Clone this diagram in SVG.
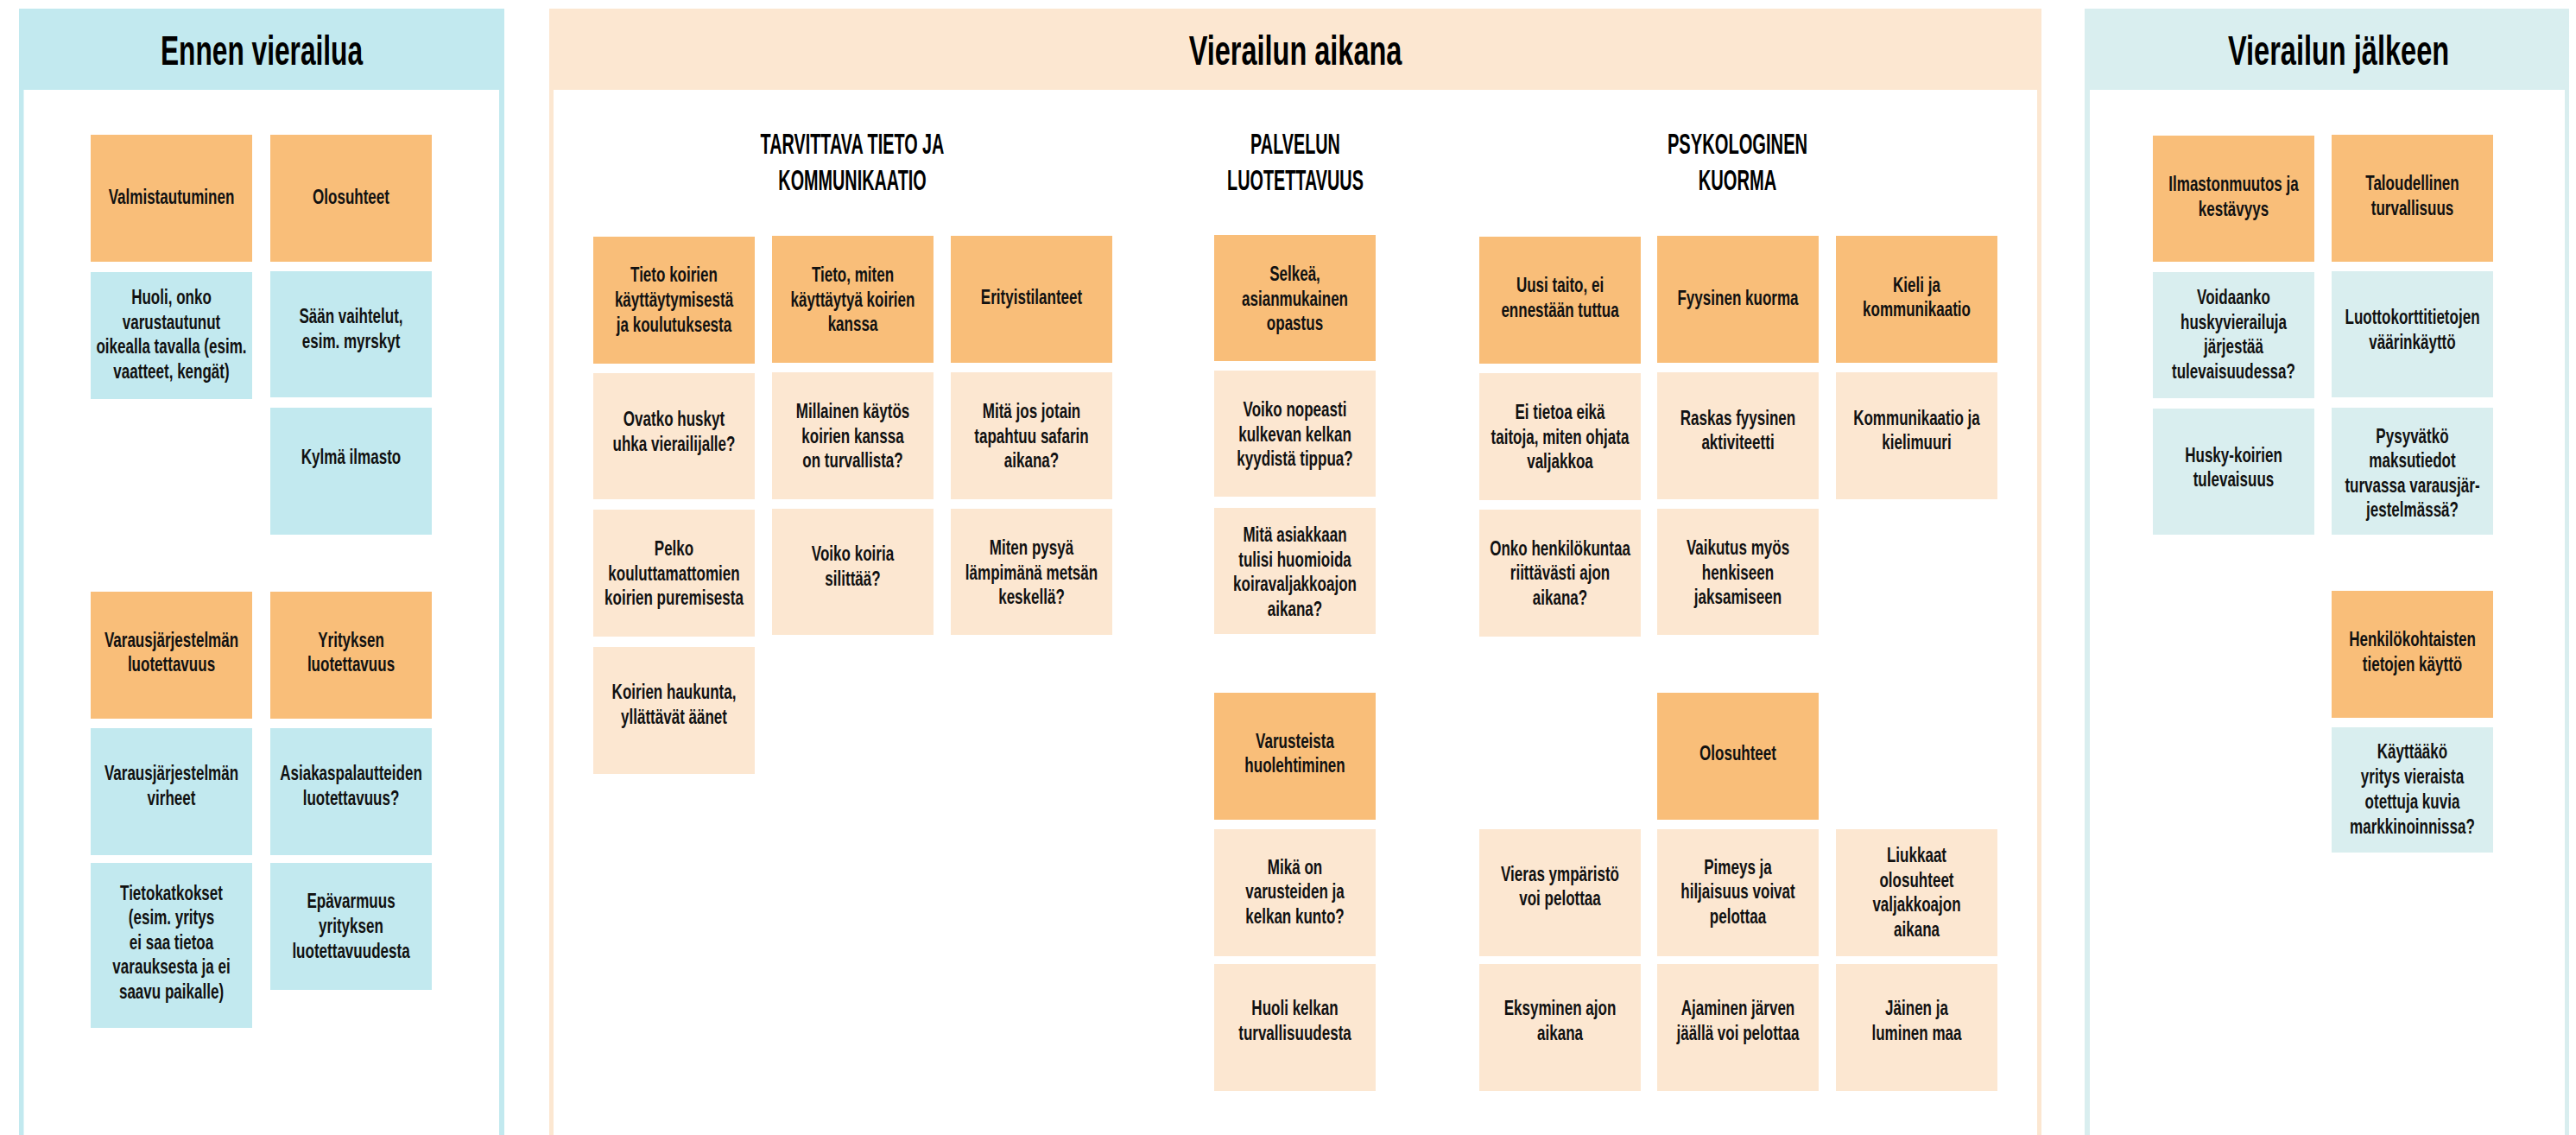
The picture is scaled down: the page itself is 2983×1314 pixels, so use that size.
<svg xmlns="http://www.w3.org/2000/svg" width="2983" height="1314" viewBox="0 0 2983 1314">
<style>
.o{fill:#f9be79}
.p{fill:#fce7d1}
.c{fill:#c2e9ef}
.d{fill:#d9eeef}
.t{font-family:"Liberation Sans",Arial,sans-serif;font-weight:bold;font-size:24px;text-anchor:middle;fill:#111}
.h{font-family:"Liberation Sans",Arial,sans-serif;font-weight:bold;font-size:48px;text-anchor:middle;fill:#000}
.s{font-family:"Liberation Sans",Arial,sans-serif;font-weight:bold;font-size:32.5px;text-anchor:middle;fill:#000}
</style>
<rect width="2983" height="1314" fill="#fff"/>
<g id="panel-ennen">
<rect class="c" x="22" y="10" width="562" height="1310"/>
<rect x="27.5" y="104" width="550.5" height="1220" fill="#fff"/>
<text class="h" transform="translate(303 0) scale(0.66 1)" x="0" y="75">Ennen vierailua</text>
</g>
<g id="panel-aikana">
<rect class="p" x="636" y="10" width="1728" height="1310"/>
<rect x="641" y="104" width="1718" height="1220" fill="#fff"/>
<text class="h" transform="translate(1500 0) scale(0.677 1)" x="0" y="75">Vierailun aikana</text>
<text class="s" transform="translate(987 0) scale(0.61 1)"><tspan x="0" y="178.5">TARVITTAVA TIETO JA</tspan><tspan x="0" y="220.5">KOMMUNIKAATIO</tspan></text>
<text class="s" transform="translate(1500 0) scale(0.61 1)"><tspan x="0" y="178.5">PALVELUN</tspan><tspan x="0" y="220.5">LUOTETTAVUUS</tspan></text>
<text class="s" transform="translate(2012 0) scale(0.62 1)"><tspan x="0" y="178.5">PSYKOLOGINEN</tspan><tspan x="0" y="220.5">KUORMA</tspan></text>
</g>
<g id="panel-jalkeen">
<rect class="d" x="2414" y="10" width="561" height="1310"/>
<rect x="2420" y="104" width="550" height="1220" fill="#fff"/>
<text class="h" transform="translate(2708 0) scale(0.678 1)" x="0" y="75">Vierailun jälkeen</text>
</g>
<g id="connectors"/>

<g id="n1"><rect class="o" x="105" y="156" width="187" height="147"/><text class="t" transform="translate(198.5 0) scale(0.71 1)"><tspan x="0" y="236.5">Valmistautuminen</tspan></text></g>
<g id="n2"><rect class="o" x="313" y="156" width="187" height="147"/><text class="t" transform="translate(406.5 0) scale(0.71 1)"><tspan x="0" y="236.5">Olosuhteet</tspan></text></g>
<g id="n3"><rect class="c" x="105" y="315" width="187" height="147"/><text class="t" transform="translate(198.5 0) scale(0.71 1)"><tspan x="0" y="352">Huoli, onko</tspan><tspan x="0" y="381">varustautunut</tspan><tspan x="0" y="409.5">oikealla tavalla (esim.</tspan><tspan x="0" y="438">vaatteet, kengät)</tspan></text></g>
<g id="n4"><rect class="c" x="313" y="314" width="187" height="146"/><text class="t" transform="translate(406.5 0) scale(0.71 1)"><tspan x="0" y="374.5">Sään vaihtelut,</tspan><tspan x="0" y="403">esim. myrskyt</tspan></text></g>
<g id="n5"><rect class="c" x="313" y="472" width="187" height="147"/><text class="t" transform="translate(406.5 0) scale(0.71 1)"><tspan x="0" y="537">Kylmä ilmasto</tspan></text></g>
<g id="n6"><rect class="o" x="105" y="685" width="187" height="147"/><text class="t" transform="translate(198.5 0) scale(0.71 1)"><tspan x="0" y="749">Varausjärjestelmän</tspan><tspan x="0" y="777.5">luotettavuus</tspan></text></g>
<g id="n7"><rect class="o" x="313" y="685" width="187" height="147"/><text class="t" transform="translate(406.5 0) scale(0.71 1)"><tspan x="0" y="749">Yrityksen</tspan><tspan x="0" y="777.5">luotettavuus</tspan></text></g>
<g id="n8"><rect class="c" x="105" y="843" width="187" height="147"/><text class="t" transform="translate(198.5 0) scale(0.71 1)"><tspan x="0" y="903.5">Varausjärjestelmän</tspan><tspan x="0" y="932">virheet</tspan></text></g>
<g id="n9"><rect class="c" x="313" y="843" width="187" height="147"/><text class="t" transform="translate(406.5 0) scale(0.71 1)"><tspan x="0" y="903.5">Asiakaspalautteiden</tspan><tspan x="0" y="932">luotettavuus?</tspan></text></g>
<g id="n10"><rect class="c" x="105" y="999" width="187" height="191"/><text class="t" transform="translate(198.5 0) scale(0.71 1)"><tspan x="0" y="1042">Tietokatkokset</tspan><tspan x="0" y="1070.5">(esim. yritys</tspan><tspan x="0" y="1099">ei saa tietoa</tspan><tspan x="0" y="1127.5">varauksesta ja ei</tspan><tspan x="0" y="1156">saavu paikalle)</tspan></text></g>
<g id="n11"><rect class="c" x="313" y="999" width="187" height="147"/><text class="t" transform="translate(406.5 0) scale(0.71 1)"><tspan x="0" y="1051.5">Epävarmuus</tspan><tspan x="0" y="1080">yrityksen</tspan><tspan x="0" y="1109">luotettavuudesta</tspan></text></g>

<g id="n12"><rect class="o" x="687" y="274" width="187" height="147"/><text class="t" transform="translate(780.5 0) scale(0.71 1)"><tspan x="0" y="326.5">Tieto koirien</tspan><tspan x="0" y="355.5">käyttäytymisestä</tspan><tspan x="0" y="384.5">ja koulutuksesta</tspan></text></g>
<g id="n13"><rect class="o" x="894" y="273" width="187" height="147"/><text class="t" transform="translate(987.5 0) scale(0.71 1)"><tspan x="0" y="326">Tieto, miten</tspan><tspan x="0" y="355">käyttäytyä koirien</tspan><tspan x="0" y="383.5">kanssa</tspan></text></g>
<g id="n14"><rect class="o" x="1101" y="273" width="187" height="147"/><text class="t" transform="translate(1194.5 0) scale(0.71 1)"><tspan x="0" y="352.5">Erityistilanteet</tspan></text></g>
<g id="n15"><rect class="p" x="687" y="432" width="187" height="146"/><text class="t" transform="translate(780.5 0) scale(0.71 1)"><tspan x="0" y="493">Ovatko huskyt</tspan><tspan x="0" y="522">uhka vierailijalle?</tspan></text></g>
<g id="n16"><rect class="p" x="894" y="431" width="187" height="147"/><text class="t" transform="translate(987.5 0) scale(0.71 1)"><tspan x="0" y="484.5">Millainen käytös</tspan><tspan x="0" y="513">koirien kanssa</tspan><tspan x="0" y="541.5">on turvallista?</tspan></text></g>
<g id="n17"><rect class="p" x="1101" y="431" width="187" height="147"/><text class="t" transform="translate(1194.5 0) scale(0.71 1)"><tspan x="0" y="484.5">Mitä jos jotain</tspan><tspan x="0" y="513">tapahtuu safarin</tspan><tspan x="0" y="541.5">aikana?</tspan></text></g>
<g id="n18"><rect class="p" x="687" y="590" width="187" height="147"/><text class="t" transform="translate(780.5 0) scale(0.71 1)"><tspan x="0" y="643">Pelko</tspan><tspan x="0" y="672">kouluttamattomien</tspan><tspan x="0" y="700.5">koirien puremisesta</tspan></text></g>
<g id="n19"><rect class="p" x="894" y="589" width="187" height="146"/><text class="t" transform="translate(987.5 0) scale(0.71 1)"><tspan x="0" y="649.5">Voiko koiria</tspan><tspan x="0" y="678.5">silittää?</tspan></text></g>
<g id="n20"><rect class="p" x="1101" y="589" width="187" height="146"/><text class="t" transform="translate(1194.5 0) scale(0.71 1)"><tspan x="0" y="642">Miten pysyä</tspan><tspan x="0" y="671">lämpimänä metsän</tspan><tspan x="0" y="699.5">keskellä?</tspan></text></g>
<g id="n21"><rect class="p" x="687" y="749" width="187" height="147"/><text class="t" transform="translate(780.5 0) scale(0.71 1)"><tspan x="0" y="809.5">Koirien haukunta,</tspan><tspan x="0" y="838">yllättävät äänet</tspan></text></g>

<g id="n22"><rect class="o" x="1406" y="272" width="187" height="146"/><text class="t" transform="translate(1499.5 0) scale(0.71 1)"><tspan x="0" y="325.5">Selkeä,</tspan><tspan x="0" y="354">asianmukainen</tspan><tspan x="0" y="382.5">opastus</tspan></text></g>
<g id="n23"><rect class="p" x="1406" y="429" width="187" height="146"/><text class="t" transform="translate(1499.5 0) scale(0.71 1)"><tspan x="0" y="482.5">Voiko nopeasti</tspan><tspan x="0" y="511">kulkevan kelkan</tspan><tspan x="0" y="539.5">kyydistä tippua?</tspan></text></g>
<g id="n24"><rect class="p" x="1406" y="588" width="187" height="146"/><text class="t" transform="translate(1499.5 0) scale(0.71 1)"><tspan x="0" y="627.5">Mitä asiakkaan</tspan><tspan x="0" y="656">tulisi huomioida</tspan><tspan x="0" y="684.5">koiravaljakkoajon</tspan><tspan x="0" y="713">aikana?</tspan></text></g>
<g id="n25"><rect class="o" x="1406" y="802" width="187" height="147"/><text class="t" transform="translate(1499.5 0) scale(0.71 1)"><tspan x="0" y="866">Varusteista</tspan><tspan x="0" y="894">huolehtiminen</tspan></text></g>
<g id="n26"><rect class="p" x="1406" y="960" width="187" height="147"/><text class="t" transform="translate(1499.5 0) scale(0.71 1)"><tspan x="0" y="1012">Mikä on</tspan><tspan x="0" y="1040.5">varusteiden ja</tspan><tspan x="0" y="1069">kelkan kunto?</tspan></text></g>
<g id="n27"><rect class="p" x="1406" y="1116" width="187" height="147"/><text class="t" transform="translate(1499.5 0) scale(0.71 1)"><tspan x="0" y="1175.5">Huoli kelkan</tspan><tspan x="0" y="1204">turvallisuudesta</tspan></text></g>

<g id="n28"><rect class="o" x="1713" y="274" width="187" height="147"/><text class="t" transform="translate(1806.5 0) scale(0.71 1)"><tspan x="0" y="338.5">Uusi taito, ei</tspan><tspan x="0" y="367">ennestään tuttua</tspan></text></g>
<g id="n29"><rect class="o" x="1919" y="273" width="187" height="147"/><text class="t" transform="translate(2012.5 0) scale(0.71 1)"><tspan x="0" y="353">Fyysinen kuorma</tspan></text></g>
<g id="n30"><rect class="o" x="2126" y="273" width="187" height="147"/><text class="t" transform="translate(2219.5 0) scale(0.71 1)"><tspan x="0" y="338">Kieli ja</tspan><tspan x="0" y="366.5">kommunikaatio</tspan></text></g>
<g id="n31"><rect class="p" x="1713" y="432" width="187" height="147"/><text class="t" transform="translate(1806.5 0) scale(0.71 1)"><tspan x="0" y="485.5">Ei tietoa eikä</tspan><tspan x="0" y="514">taitoja, miten ohjata</tspan><tspan x="0" y="542.5">valjakkoa</tspan></text></g>
<g id="n32"><rect class="p" x="1919" y="431" width="187" height="147"/><text class="t" transform="translate(2012.5 0) scale(0.71 1)"><tspan x="0" y="492">Raskas fyysinen</tspan><tspan x="0" y="520.5">aktiviteetti</tspan></text></g>
<g id="n33"><rect class="p" x="2126" y="431" width="187" height="147"/><text class="t" transform="translate(2219.5 0) scale(0.71 1)"><tspan x="0" y="492">Kommunikaatio ja</tspan><tspan x="0" y="520.5">kielimuuri</tspan></text></g>
<g id="n34"><rect class="p" x="1713" y="590" width="187" height="147"/><text class="t" transform="translate(1806.5 0) scale(0.71 1)"><tspan x="0" y="643">Onko henkilökuntaa</tspan><tspan x="0" y="671.5">riittävästi ajon</tspan><tspan x="0" y="700">aikana?</tspan></text></g>
<g id="n35"><rect class="p" x="1919" y="589" width="187" height="146"/><text class="t" transform="translate(2012.5 0) scale(0.71 1)"><tspan x="0" y="642.5">Vaikutus myös</tspan><tspan x="0" y="671">henkiseen</tspan><tspan x="0" y="699.5">jaksamiseen</tspan></text></g>
<g id="n36"><rect class="o" x="1919" y="802" width="187" height="147"/><text class="t" transform="translate(2012.5 0) scale(0.71 1)"><tspan x="0" y="880">Olosuhteet</tspan></text></g>
<g id="n37"><rect class="p" x="1713" y="960" width="187" height="147"/><text class="t" transform="translate(1806.5 0) scale(0.71 1)"><tspan x="0" y="1020">Vieras ympäristö</tspan><tspan x="0" y="1048">voi pelottaa</tspan></text></g>
<g id="n38"><rect class="p" x="1919" y="960" width="187" height="147"/><text class="t" transform="translate(2012.5 0) scale(0.71 1)"><tspan x="0" y="1012">Pimeys ja</tspan><tspan x="0" y="1040.5">hiljaisuus voivat</tspan><tspan x="0" y="1069">pelottaa</tspan></text></g>
<g id="n39"><rect class="p" x="2126" y="960" width="187" height="147"/><text class="t" transform="translate(2219.5 0) scale(0.71 1)"><tspan x="0" y="998">Liukkaat</tspan><tspan x="0" y="1027">olosuhteet</tspan><tspan x="0" y="1055.5">valjakkoajon</tspan><tspan x="0" y="1084">aikana</tspan></text></g>
<g id="n40"><rect class="p" x="1713" y="1116" width="187" height="147"/><text class="t" transform="translate(1806.5 0) scale(0.71 1)"><tspan x="0" y="1175.5">Eksyminen ajon</tspan><tspan x="0" y="1204">aikana</tspan></text></g>
<g id="n41"><rect class="p" x="1919" y="1116" width="187" height="147"/><text class="t" transform="translate(2012.5 0) scale(0.71 1)"><tspan x="0" y="1175.5">Ajaminen järven</tspan><tspan x="0" y="1204">jäällä voi pelottaa</tspan></text></g>
<g id="n42"><rect class="p" x="2126" y="1116" width="187" height="147"/><text class="t" transform="translate(2219.5 0) scale(0.71 1)"><tspan x="0" y="1175.5">Jäinen ja</tspan><tspan x="0" y="1204">luminen maa</tspan></text></g>

<g id="n43"><rect class="o" x="2493" y="157" width="187" height="146"/><text class="t" transform="translate(2586.5 0) scale(0.71 1)"><tspan x="0" y="221">Ilmastonmuutos ja</tspan><tspan x="0" y="250">kestävyys</tspan></text></g>
<g id="n44"><rect class="o" x="2700" y="156" width="187" height="147"/><text class="t" transform="translate(2793.5 0) scale(0.71 1)"><tspan x="0" y="220.5">Taloudellinen</tspan><tspan x="0" y="249">turvallisuus</tspan></text></g>
<g id="n45"><rect class="d" x="2493" y="315" width="187" height="146"/><text class="t" transform="translate(2586.5 0) scale(0.71 1)"><tspan x="0" y="352">Voidaanko</tspan><tspan x="0" y="381">huskyvierailuja</tspan><tspan x="0" y="409.5">järjestää</tspan><tspan x="0" y="438.5">tulevaisuudessa?</tspan></text></g>
<g id="n46"><rect class="d" x="2700" y="314" width="187" height="146"/><text class="t" transform="translate(2793.5 0) scale(0.71 1)"><tspan x="0" y="375.5">Luottokorttitietojen</tspan><tspan x="0" y="404">väärinkäyttö</tspan></text></g>
<g id="n47"><rect class="d" x="2493" y="473" width="187" height="146"/><text class="t" transform="translate(2586.5 0) scale(0.71 1)"><tspan x="0" y="535">Husky-koirien</tspan><tspan x="0" y="563.5">tulevaisuus</tspan></text></g>
<g id="n48"><rect class="d" x="2700" y="472" width="187" height="147"/><text class="t" transform="translate(2793.5 0) scale(0.71 1)"><tspan x="0" y="513">Pysyvätkö</tspan><tspan x="0" y="541.5">maksutiedot</tspan><tspan x="0" y="570">turvassa varausjär-</tspan><tspan x="0" y="598.5">jestelmässä?</tspan></text></g>
<g id="n49"><rect class="o" x="2700" y="684" width="187" height="147"/><text class="t" transform="translate(2793.5 0) scale(0.71 1)"><tspan x="0" y="748.5">Henkilökohtaisten</tspan><tspan x="0" y="777">tietojen käyttö</tspan></text></g>
<g id="n50"><rect class="d" x="2700" y="842" width="187" height="145"/><text class="t" transform="translate(2793.5 0) scale(0.71 1)"><tspan x="0" y="878.5">Käyttääkö</tspan><tspan x="0" y="907.5">yritys vieraista</tspan><tspan x="0" y="936">otettuja kuvia</tspan><tspan x="0" y="965">markkinoinnissa?</tspan></text></g>
</svg>
